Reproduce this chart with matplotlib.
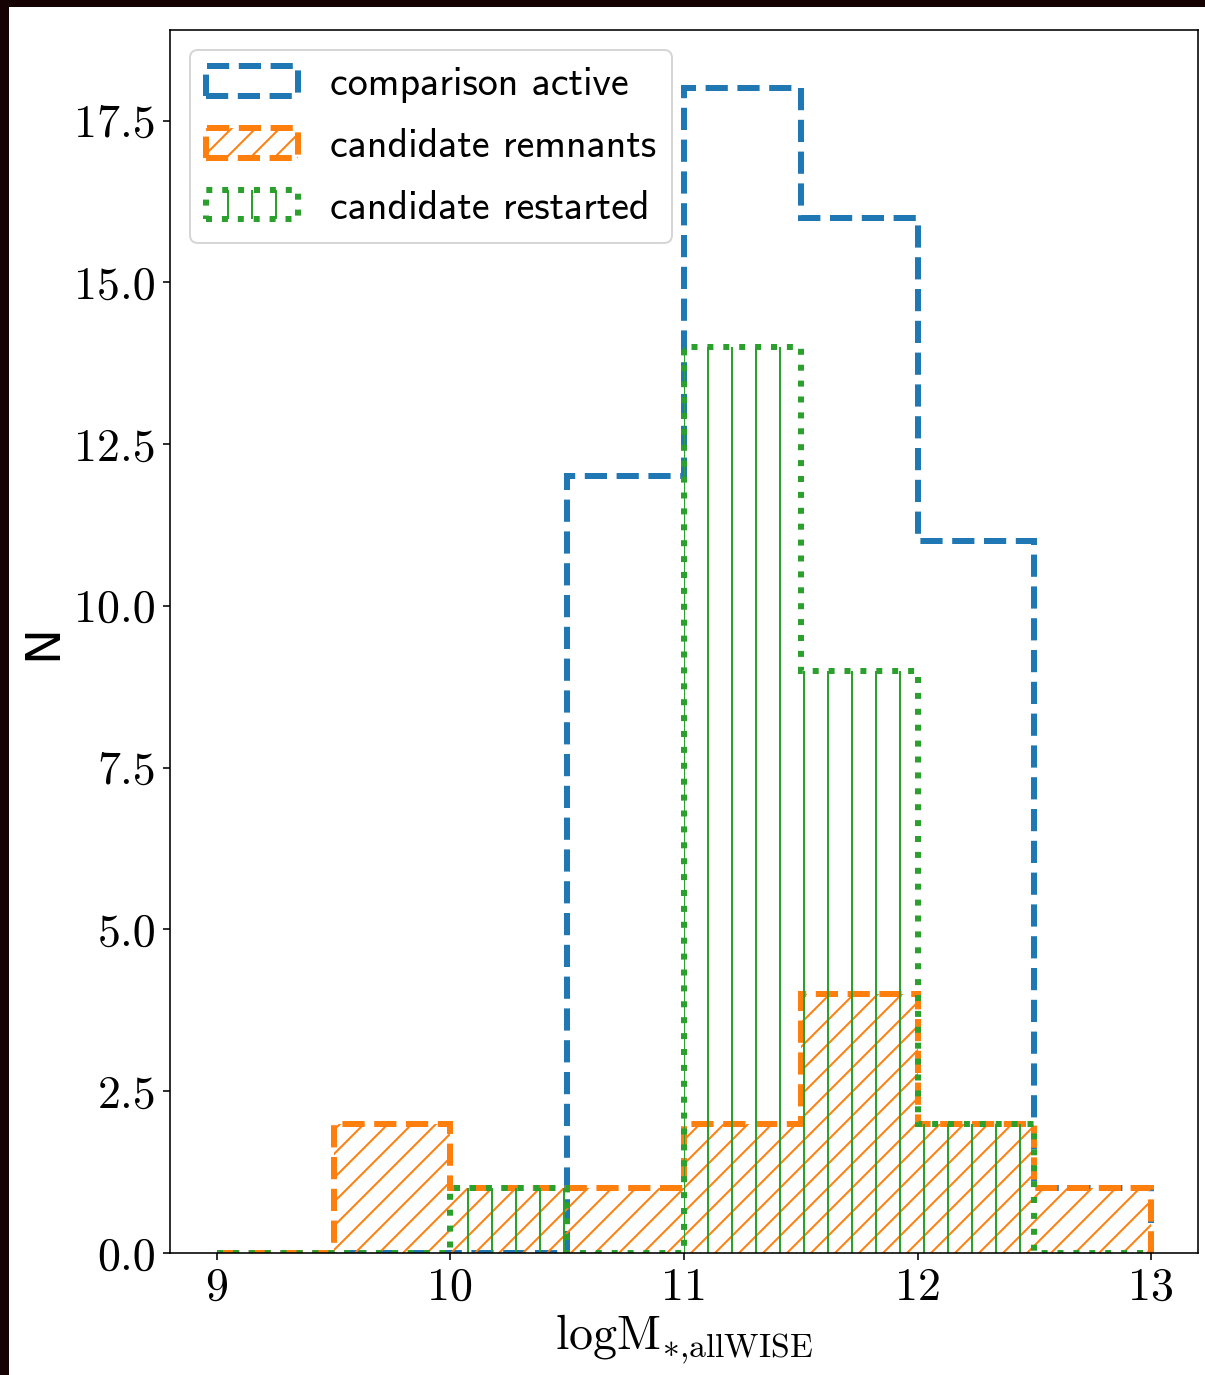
import matplotlib
matplotlib.use("Agg")
import matplotlib.pyplot as plt
import numpy as np
from matplotlib.patches import Rectangle

# ---- data ----
bin_edges = [9.0, 9.5, 10.0, 10.5, 11.0, 11.5, 12.0, 12.5, 13.0]
bin_centers = [9.25, 9.75, 10.25, 10.75, 11.25, 11.75, 12.25, 12.75]
comparison_active = [0, 0, 0, 12, 18, 16, 11, 1]
candidate_remnants = [0, 2, 1, 1, 2, 4, 2, 1]
candidate_restarted = [0, 0, 1, 0, 14, 9, 2, 0]
labels = ["comparison active", "candidate remnants", "candidate restarted"]
xticks = [9, 10, 11, 12, 13]
xtick_labels = ["9", "10", "11", "12", "13"]
yticks = [0.0, 2.5, 5.0, 7.5, 10.0, 12.5, 15.0, 17.5]
ytick_labels = ["0.0", "2.5", "5.0", "7.5", "10.0", "12.5", "15.0", "17.5"]

plt.rcParams['mathtext.fontset'] = 'cm'
plt.rcParams['hatch.linewidth'] = 1.0

DPI = 144
fig = plt.figure(figsize=(1205 / DPI, 1375 / DPI), dpi=DPI)
fig.patch.set_facecolor('#150202')
fig.patches.append(Rectangle((9 / 1205, 0), 1, (1375 - 7) / 1375,
                             transform=fig.transFigure, facecolor='white',
                             edgecolor='none', zorder=-10))

ax = fig.add_axes([170 / 1205, 122 / 1375, (1198 - 170) / 1205, (1253 - 30) / 1375])

ax.hist(bin_centers, bins=bin_edges, weights=comparison_active, histtype='step',
        color='#1f77b4', lw=3, ls='--', label=labels[0])
ax.hist(bin_centers, bins=bin_edges, weights=candidate_remnants, histtype='step',
        color='#ff7f0e', lw=3, ls='--', hatch='//', label=labels[1])
ax.hist(bin_centers, bins=bin_edges, weights=candidate_restarted, histtype='step',
        color='#2ca02c', lw=3, ls=':', hatch='|', label=labels[2])

ax.set_xlim(8.8, 13.2)
ax.set_ylim(0, 18.9)
ax.set_xticks(xticks)
ax.set_xticklabels(xtick_labels, fontfamily='cmr10', fontsize=23)
ax.set_yticks(yticks)
ax.set_yticklabels(ytick_labels, fontfamily='cmr10', fontsize=23)

ax.set_xlabel(r'$\mathrm{logM}_{*{,}\mathrm{allWISE}}$', fontsize=24, labelpad=2)
ax.set_ylabel('N', fontsize=24, family='DejaVu Sans')

leg = ax.legend(loc='upper left', prop={'family': 'cmss10', 'size': 20},
                handlelength=2.3, handleheight=0.75, labelspacing=0.62)

fig.savefig('out.png', dpi=DPI, facecolor=fig.get_facecolor())
